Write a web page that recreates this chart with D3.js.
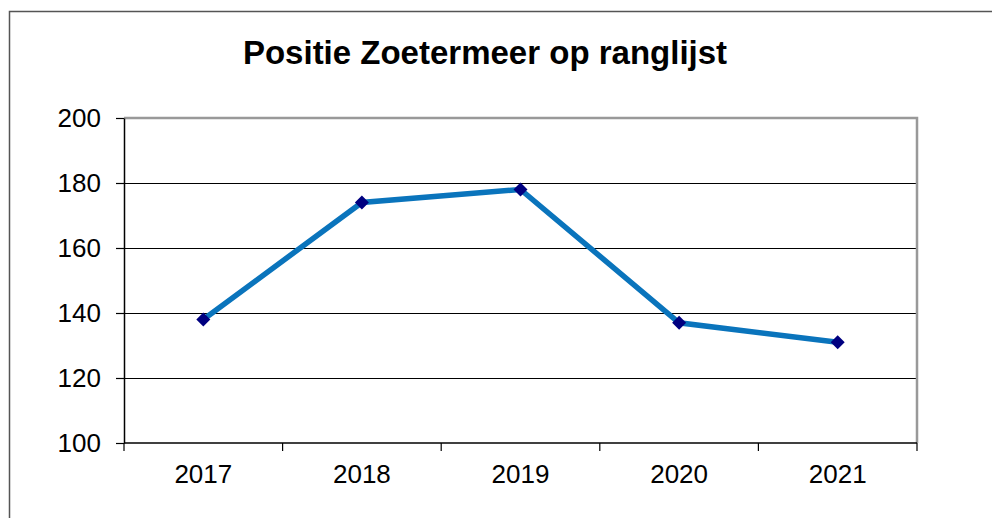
<!DOCTYPE html>
<html><head><meta charset="utf-8">
<script src="https://cdn.jsdelivr.net/npm/d3@7"></script>
<style>html,body{margin:0;padding:0;background:#fff;}svg{display:block;}</style>
</head><body>
<svg id="chart" width="992" height="518"></svg>
<script>
const years = ["2017","2018","2019","2020","2021"];
const positions = [138, 174, 178, 137, 131];
const yTicks = [100, 120, 140, 160, 180, 200];
const title = "Positie Zoetermeer op ranglijst";

const svg = d3.select("#chart");
const font = "Arial, 'Liberation Sans', sans-serif";

// outer frame
svg.append("rect").attr("x", 9.5).attr("y", 11.5).attr("width", 1000).attr("height", 600)
  .attr("fill", "none").attr("stroke", "#555").attr("stroke-width", 1.5);

const L = 124, R = 917, T = 118, B = 443;
const x = d3.scaleBand().domain(years).range([L, R]);
const y = d3.scaleLinear().domain([100, 200]).range([B, T]);

// gridlines
svg.append("g").selectAll("line").data(yTicks.filter(d => d > 100 && d < 200)).join("line")
  .attr("x1", L).attr("x2", R).attr("y1", d => Math.round(y(d)) + 0.5).attr("y2", d => Math.round(y(d)) + 0.5)
  .attr("stroke", "#000").attr("stroke-width", 1.2);

// plot top and right border
svg.append("path").attr("d", `M${L},${T}H${R}V${B}`).attr("fill", "none")
  .attr("stroke", "#999").attr("stroke-width", 2.5);

// y axis
const yAxis = d3.axisLeft(y).tickValues(yTicks).tickSize(8).tickPadding(15).tickSizeOuter(0);
const gy = svg.append("g").attr("transform", `translate(${L},0)`).call(yAxis);
gy.select(".domain").attr("stroke", "#000").attr("stroke-width", 1.5);
gy.selectAll(".tick line").attr("stroke", "#000").attr("stroke-width", 1.2);
gy.selectAll(".tick text").attr("font-family", font).attr("font-size", 26).attr("fill", "#000");

// x axis
const gx = svg.append("g").attr("transform", `translate(0,${B})`);
gx.append("line").attr("x1", L).attr("x2", R).attr("stroke", "#000").attr("stroke-width", 1.5);
const bounds = years.map(d => x(d)).concat([R]);
gx.selectAll("line.tk").data(bounds).join("line").attr("class", "tk")
  .attr("x1", d => d).attr("x2", d => d).attr("y1", 0).attr("y2", 8)
  .attr("stroke", "#000").attr("stroke-width", 1.2);
gx.selectAll("text").data(years).join("text")
  .attr("x", d => x(d) + x.bandwidth() / 2).attr("y", 40)
  .attr("text-anchor", "middle").attr("font-family", font).attr("font-size", 26).attr("fill", "#000")
  .text(d => d);

// line
const pts = years.map((d, i) => [x(d) + x.bandwidth() / 2, y(positions[i])]);
svg.append("path").datum(pts).attr("d", d3.line())
  .attr("fill", "none").attr("stroke", "#0a74bc").attr("stroke-width", 5.5).attr("stroke-linejoin", "miter");

// markers
svg.append("g").selectAll("path").data(pts).join("path")
  .attr("transform", d => `translate(${d[0]},${d[1]})`)
  .attr("d", "M0,-7L7,0L0,7L-7,0Z").attr("fill", "#000080");

// title
svg.append("text").attr("x", 485).attr("y", 64).attr("text-anchor", "middle")
  .attr("font-family", font).attr("font-weight", "bold").attr("font-size", 33).attr("fill", "#000")
  .text(title);
</script>
</body></html>
